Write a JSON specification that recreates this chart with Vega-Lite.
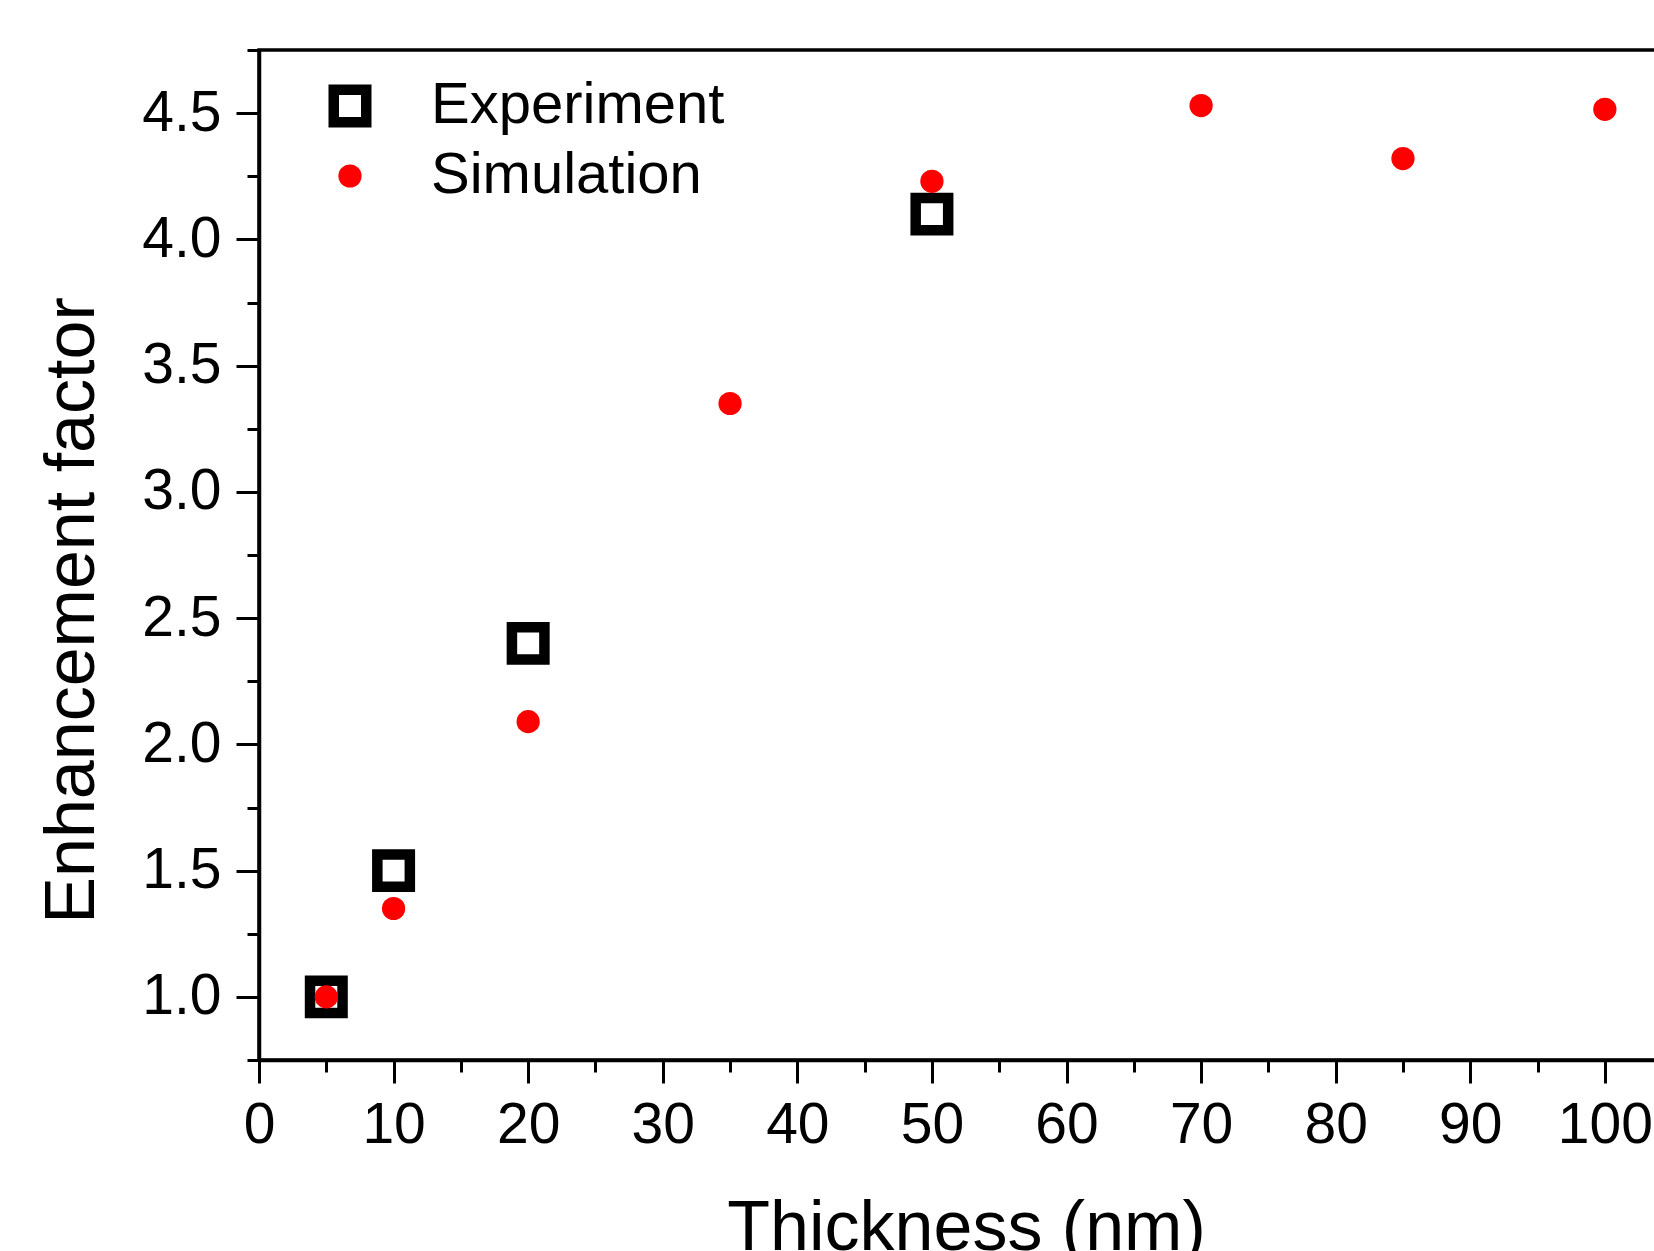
{
  "$schema": "https://vega.github.io/schema/vega-lite/v6.json",
  "autosize": {"type": "none"},
  "width": 1397,
  "height": 1010,
  "padding": {"left": 259, "top": 50, "right": 0, "bottom": 191},
  "background": "white",
  "config": {
    "view": {"stroke": "black", "strokeWidth": 3.5},
    "font": "Liberation Sans",
    "axis": {"grid": false, "domainColor": "black", "domainWidth": 3.5, "tickColor": "black", "tickWidth": 3, "labelColor": "black", "titleColor": "black", "labelFont": "Liberation Sans", "titleFont": "Liberation Sans", "labelFontSize": 57, "titleFontSize": 70, "titleFontWeight": "normal", "labelOverlap": false, "labelFlush": false, "labelBound": false},
    "legend": {"symbolOpacity": 1, "labelFont": "Liberation Sans", "labelFontSize": 58, "labelColor": "black", "padding": 0, "labelLimit": 0}
  },
  "data": {"values": [
    {"series": "Experiment", "thickness": 5, "ef": 1.0},
    {"series": "Experiment", "thickness": 10, "ef": 1.5},
    {"series": "Experiment", "thickness": 20, "ef": 2.4},
    {"series": "Experiment", "thickness": 50, "ef": 4.1},
    {"series": "Simulation", "thickness": 5, "ef": 1.0},
    {"series": "Simulation", "thickness": 10, "ef": 1.35},
    {"series": "Simulation", "thickness": 20, "ef": 2.09},
    {"series": "Simulation", "thickness": 35, "ef": 3.35},
    {"series": "Simulation", "thickness": 50, "ef": 4.23},
    {"series": "Simulation", "thickness": 70, "ef": 4.53},
    {"series": "Simulation", "thickness": 85, "ef": 4.32},
    {"series": "Simulation", "thickness": 100, "ef": 4.515}
  ]},
  "mark": {"type": "point", "opacity": 1},
  "encoding": {
    "x": {
      "field": "thickness", "type": "quantitative",
      "scale": {"domain": [0, 103.8], "nice": false, "zero": false},
      "axis": {
        "title": "Thickness (nm)",
        "values": [0,5,10,15,20,25,30,35,40,45,50,55,60,65,70,75,80,85,90,95,100],
        "labelExpr": "datum.value % 10 === 0 ? datum.label : ''",
        "tickSize": {"condition": {"test": "datum.value % 10 === 0", "value": 23}, "value": 12},
        "labelPadding": 14,
        "titleX": 707, "titleY": 189, "titleBaseline": "alphabetic", "titleAlign": "center"
      }
    },
    "y": {
      "field": "ef", "type": "quantitative",
      "scale": {"domain": [0.75, 4.75], "nice": false, "zero": false},
      "axis": {
        "title": "Enhancement factor",
        "values": [0.75,1.0,1.25,1.5,1.75,2.0,2.25,2.5,2.75,3.0,3.25,3.5,3.75,4.0,4.25,4.5,4.75],
        "format": ".1f",
        "labelExpr": "abs(datum.value*2 - round(datum.value*2)) < 0.01 ? datum.label : ''",
        "tickSize": {"condition": {"test": "abs(datum.value*2 - round(datum.value*2)) < 0.01", "value": 23}, "value": 12},
        "labelPadding": 15,
        "titleX": -166, "titleY": 560, "titleAngle": 270, "titleBaseline": "alphabetic", "titleAlign": "center"
      }
    },
    "shape": {"field": "series", "type": "nominal", "scale": {"domain": ["Experiment", "Simulation"], "range": ["square", "circle"]},
      "legend": {"title": null, "orient": "none", "legendX": 62, "legendY": 27, "labelOffset": 52, "rowPadding": 3}},
    "fill": {"field": "series", "type": "nominal", "scale": {"domain": ["Experiment", "Simulation"], "range": ["white", "red"]},
      "legend": {"title": null, "orient": "none", "legendX": 62, "legendY": 27, "labelOffset": 52, "rowPadding": 3}},
    "stroke": {"field": "series", "type": "nominal", "scale": {"domain": ["Experiment", "Simulation"], "range": ["black", "red"]},
      "legend": {"title": null, "orient": "none", "legendX": 62, "legendY": 27, "labelOffset": 52, "rowPadding": 3}},
    "size": {"field": "series", "type": "nominal", "scale": {"domain": ["Experiment", "Simulation"], "range": [1056, 540]},
      "legend": {"title": null, "orient": "none", "legendX": 62, "legendY": 27, "labelOffset": 52, "rowPadding": 3}},
    "strokeWidth": {"field": "series", "type": "nominal", "scale": {"domain": ["Experiment", "Simulation"], "range": [10.5, 0]},
      "legend": {"title": null, "orient": "none", "legendX": 62, "legendY": 27, "labelOffset": 52, "rowPadding": 3}}
  }
}
